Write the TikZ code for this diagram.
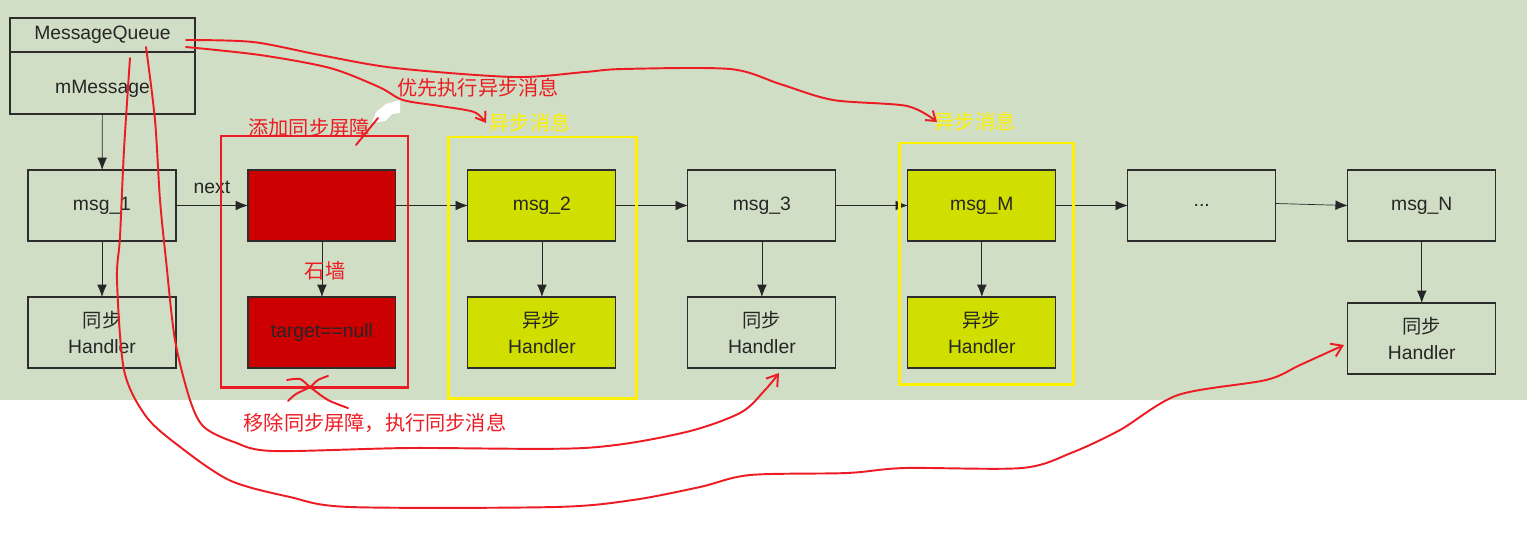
\documentclass[tikz,border=0pt]{standalone}
\usepackage{fontspec}
\setmainfont{Liberation Sans}
\newfontfamily\cjk{Noto Sans CJK SC}
\usetikzlibrary{positioning}
\usetikzlibrary{arrows.meta}
\definecolor{bggreen}{RGB}{207,222,196}
\definecolor{barrier}{RGB}{204,0,0}
\definecolor{async}{RGB}{208,223,0}
\definecolor{penred}{RGB}{237,28,36}
\definecolor{hilite}{RGB}{255,242,0}
\definecolor{edge}{RGB}{45,45,45}

\begin{document}
\begin{tikzpicture}[x=0.02cm,y=-0.02cm,
  msg/.style={rectangle,draw=edge,semithick,text=black!85,minimum width=2.96cm,minimum height=1.42cm,inner sep=0pt,outer sep=0pt,align=center,font=\fontsize{11}{15}\selectfont},
  link/.style={-{Latex[length=7pt,width=5.5pt]},draw=black!85},
  scribble/.style={draw=penred,line width=1.1pt,line cap=round,line join=round},
  frame/.style={line width=1.7pt},
  note/.style={font=\cjk\fontsize{11.5}{14}\selectfont,inner sep=0pt}]

% background
\fill[white] (0,0) rectangle (1527,545);
\fill[bggreen] (0,0) rectangle (1527,400);
\useasboundingbox (0,0) rectangle (1527,545);

% message queue
\node (mq)[msg,minimum width=3.7cm,minimum height=0.68cm] at (102.5,35) {MessageQueue};
\node (mmsg)[msg,minimum width=3.7cm,minimum height=1.24cm,below=0pt of mq] {\smash{\raisebox{-6pt}{mMessage}}};

% message chain
\node (msg_1)[msg] at (102,205.5) {msg\_1};
\node (bar)[msg,fill=barrier,right=1.44cm of msg_1] {};
\node (msg_2)[msg,fill=async,right=1.44cm of bar] {msg\_2};
\node (msg_3)[msg,right=1.44cm of msg_2] {msg\_3};
\node (msg_M)[msg,fill=async,right=1.44cm of msg_3] {msg\_M};
\node (dots)[msg,right=1.44cm of msg_M] {...};
\node (msg_N)[msg,right=1.44cm of dots] {msg\_N};

% handlers
\node (hdl_1)[msg,below=1.12cm of msg_1] {{\cjk 同步}\\Handler};
\node (wall)[msg,fill=barrier,below=1.12cm of bar] {target==null};
\node (hdl_2)[msg,fill=async,below=1.12cm of msg_2] {{\cjk 异步}\\Handler};
\node (hdl_3)[msg,below=1.12cm of msg_3] {{\cjk 同步}\\Handler};
\node (hdl_M)[msg,fill=async,below=1.12cm of msg_M] {{\cjk 异步}\\Handler};
\node (hdl_N)[msg,below=1.24cm of msg_N] {{\cjk 同步}\\Handler};

\draw [link] (mmsg) -- (msg_1);
\draw [link] (msg_1) -- node[above=3pt,font=\fontsize{11}{13}\selectfont,text=black!85]{next} (bar);
\draw [link] (bar) -- (msg_2);
\draw [link] (msg_2) -- (msg_3);
\draw [link] (msg_3) -- (msg_M);
\draw [link] (msg_M) -- (dots);
\draw [link] (dots.east) ++(0,-2) -- (msg_N.west);
\foreach \a/\b in {msg_1/hdl_1, bar/wall, msg_2/hdl_2, msg_3/hdl_3, msg_M/hdl_M, msg_N/hdl_N}
  \draw [link] (\a) -- (\b);

% barrier and async frames
\draw [frame,penred] (221,136) rectangle (408,387);
\draw [frame,hilite] (448,137) rectangle (636,398);
\draw [frame,hilite] (899,143) rectangle (1073,384);

% notes
\node (lbl_bar)[note,text=penred] at (309,128) {添加同步屏障};
\node (lbl_async_1)[note,text=hilite] at (530,123) {异步消息};
\node (lbl_async_2)[note,text=hilite] at (975,122) {异步消息};
\node (lbl_first)[note,text=penred] at (478,88) {优先执行异步消息};
\node (lbl_wall)[note,text=penred] at (325,271) {石墙};
\node (lbl_remove)[note,text=penred] at (375,423) {移除同步屏障，执行同步消息};

% hand drawn marks
\fill [white] (372,123) -- (376,112) -- (386,104) -- (400,100) -- (400,113) -- (392,114) -- (385,121) -- cycle;
\draw [scribble] (378,118) -- (356,145);
\draw [scribble,-{Straight Barb[length=5pt,width=7pt]}] plot[smooth] coordinates {(186,47) (260,55) (330,68) (379,87) (403,100) (440,106) (474,112) (486,123)};
\draw [scribble,-{Straight Barb[length=5pt,width=7pt]}] plot[smooth] coordinates {(186,40) (253,42) (320,55) (395,68) (514,77) (585,72) (623,69) (730,69) (780,84) (833,100) (907,106) (937,122)};
\draw [scribble,-{Straight Barb[length=6pt,width=8pt]}] plot[smooth] coordinates {(146,47) (155,120) (160,200) (166,260) (175,340) (190,400) (204,427) (234,442) (273,451) (409,448) (584,448) (682,433) (740,413) (765,390) (779,373)};
\draw [scribble,-{Straight Barb[length=6pt,width=8pt]}] plot[smooth] coordinates {(130,58) (124,150) (120,237) (117,280) (124,370) (145,415) (175,443) (229,480) (290,497) (350,507) (555,507) (633,500) (700,487) (750,475) (847,473) (905,468) (1022,468) (1071,453) (1120,430) (1178,395) (1266,380) (1300,365) (1344,345)};
\draw [scribble] plot[smooth] coordinates {(287,380) (300,379) (310,387) (328,400) (348,408)};
\draw [scribble] plot[smooth] coordinates {(328,376) (318,380) (310,387) (296,394) (288,401)};

\end{tikzpicture}
\end{document}
